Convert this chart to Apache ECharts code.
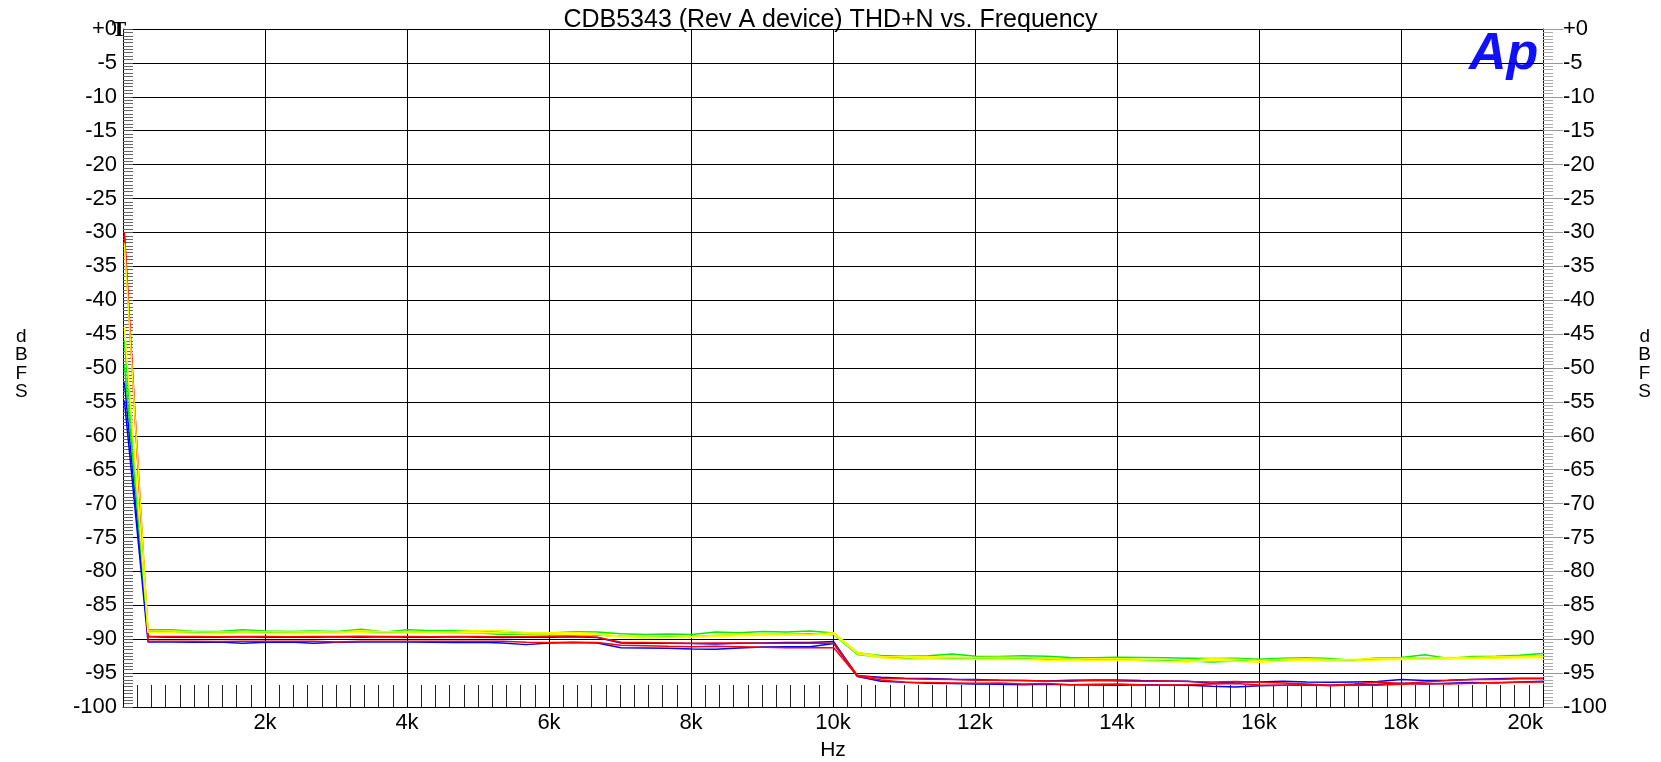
<!DOCTYPE html>
<html>
<head>
<meta charset="utf-8">
<script src="https://cdn.jsdelivr.net/npm/echarts@6/dist/echarts.min.js"></script>
<style>
html,body{margin:0;padding:0;background:#fff;}
#chart{width:1661px;height:762px;}
</style>
</head>
<body>
<div id="chart"></div>
<script>
// Frequencies (Hz) of the sweep points
const freqs = [20,353,686,1019,1352,1685,2018,2351,2684,3017,3350,3683,4016,4349,4682,5015,5348,5681,6014,6347,6680,7013,7346,7679,8012,8345,8678,9011,9344,9677,10010,10343,10676,11009,11342,11675,12008,12341,12674,13007,13340,13673,14006,14339,14672,15005,15338,15671,16004,16337,16670,17003,17336,17669,18002,18335,18668,19001,19334,19667,20000];

const greenA = [-45.9, -88.6,-88.6,-88.85,-88.85,-88.6,-88.8,-88.85,-88.8,-88.85,-88.55, -88.95,-88.6,-88.75,-88.7,-88.75, -89.0,-89.05,-89.1,-88.9,-88.95, -89.2,-89.3,-89.25,-89.3,-88.95, -89.05,-88.85,-88.95,-88.8,-89.1, -92.05,-92.4,-92.5,-92.45,-92.2, -92.5,-92.55,-92.45,-92.5,-92.7, -92.75,-92.65,-92.7,-92.75,-92.8, -92.85,-92.8,-92.95,-92.8,-92.75, -92.85,-93.15,-92.75,-92.7,-92.3, -92.85,-92.55,-92.5,-92.35,-92.1];
const greenB = [-49.6, -88.8,-88.9,-89.0,-89.05,-88.9,-89.0,-89.05,-89.1,-89.0,-88.95, -89.1,-88.95,-89.0,-89.05,-89.1, -89.3,-89.25,-89.3,-89.35,-89.4, -89.55,-89.7,-89.65,-89.6,-89.45, -89.35,-89.3,-89.25,-89.2,-89.35, -92.25,-92.65,-92.8,-92.85,-92.8, -92.75,-92.9,-92.85,-92.95,-92.9, -93.0,-92.95,-93.05,-93.15,-93.2, -93.35,-93.2,-93.1,-93.05,-93.1, -93.0,-93.05,-92.95,-92.9,-92.8, -92.85,-92.75,-92.7,-92.6,-92.5];
const yellowA = [-31.6, -88.75,-88.8,-88.9,-88.95,-88.85,-88.9,-88.95,-88.9,-88.95,-88.75, -88.9,-88.85,-88.9,-88.85,-88.7, -88.75,-89.0,-89.05,-89.0,-89.15, -89.55,-89.7,-89.7,-89.6,-89.45, -89.3,-89.3,-89.25,-89.3,-89.05, -91.9,-92.55,-92.6,-92.6,-92.65, -92.7,-92.65,-92.7,-92.8,-92.95, -92.9,-92.9,-92.95,-93.0,-93.1, -92.85,-92.95,-93.15,-92.95,-92.9, -93.0,-93.0,-92.8,-92.8,-92.75, -92.7,-92.7,-92.6,-92.55,-92.6];
const yellowB = [-43.9, -89.0,-89.05,-89.15,-89.2,-89.1,-89.15,-89.2,-89.15,-89.1,-89.0, -89.15,-89.1,-89.05,-89.1,-89.0, -89.1,-89.2,-89.25,-89.3,-89.3, -89.7,-89.85,-89.8,-89.75,-89.6, -89.5,-89.45,-89.4,-89.4,-89.25, -92.15,-92.75,-92.95,-92.9,-92.95, -93.0,-92.95,-93.0,-93.1,-93.2, -93.15,-93.1,-93.2,-93.3,-93.35, -93.15,-93.25,-93.4,-93.2,-93.15, -93.25,-93.2,-93.05,-93.0,-92.95, -92.9,-92.9,-92.8,-92.75,-92.75];
const redA = [-30.0, -89.55,-89.6,-89.6,-89.65,-89.6,-89.6,-89.65,-89.6,-89.6,-89.55, -89.6,-89.6,-89.65,-89.6,-89.6, -89.65,-89.6,-89.55,-89.5,-89.7, -90.45,-90.5,-90.55,-90.6,-90.55, -90.55,-90.6,-90.6,-90.6,-90.6, -95.3,-95.75,-95.85,-95.9,-95.95, -96.05,-96.05,-96.1,-96.15,-96.2, -96.1,-96.15,-96.2,-96.15,-96.25, -96.3,-96.25,-96.35,-96.45,-96.6, -96.8,-96.6,-96.3,-96.55,-96.3, -96.1,-95.95,-95.95,-95.85,-95.85];
const redB = [-30.5, -90.3,-90.3,-90.3,-90.35,-90.3,-90.3,-90.3,-90.3,-90.4,-90.3, -90.3,-90.3,-90.3,-90.3,-90.3, -90.3,-90.45,-90.5,-90.45,-90.5, -90.9,-90.95,-91.05,-91.1,-91.05, -91.1,-91.2,-91.25,-91.25,-91.25, -95.45,-96.0,-96.35,-96.4,-96.45, -96.5,-96.45,-96.6,-96.55,-96.7, -96.65,-96.6,-96.7,-96.75,-96.7, -96.6,-96.55,-96.75,-96.8,-96.7, -96.85,-96.75,-96.8,-96.65,-96.55, -96.6,-96.5,-96.4,-96.35,-96.3];
const blueA = [-52.1, -89.65,-89.7,-89.7,-89.7,-89.65,-89.7,-89.7,-89.7,-89.65,-89.7, -89.65,-89.7,-89.7,-89.65,-89.7, -89.75,-89.7,-89.7,-89.65,-89.75, -90.55,-90.6,-90.6,-90.65,-90.7, -90.6,-90.55,-90.5,-90.5,-90.35, -95.4,-95.6,-95.75,-95.8,-95.9, -95.95,-96.05,-96.1,-96.15,-96.05, -96.0,-96.0,-96.1,-96.15,-96.2, -96.5,-96.3,-96.3,-96.2,-96.3, -96.35,-96.3,-96.25,-95.95,-96.1, -96.05,-95.95,-95.85,-95.75,-95.75];
const blueB = [-54.8, -90.4,-90.4,-90.45,-90.4,-90.6,-90.45,-90.4,-90.6,-90.45,-90.4, -90.4,-90.4,-90.45,-90.5,-90.45, -90.55,-90.8,-90.55,-90.5,-90.55, -91.25,-91.3,-91.35,-91.45,-91.5, -91.3,-91.15,-91.1,-91.1,-90.65, -95.5,-96.2,-96.35,-96.5,-96.55, -96.6,-96.65,-96.7,-96.65,-96.7, -96.75,-96.8,-96.7,-96.75,-96.8, -96.95,-97.05,-96.85,-96.8,-96.75, -96.8,-96.7,-96.65,-96.5,-96.6, -96.5,-96.4,-96.45,-96.3,-96.2];

const titleText = 'CDB5343 (Rev A device) THD+N vs. Frequency';
const xName = 'Hz';
const yName = 'dBFS';

const FONT = "'Liberation Sans', Arial, sans-serif";
const chart = echarts.init(document.getElementById('chart'), null, {renderer: 'canvas'});

function mk(name, data, color) {
  return {
    name: name, type: 'line', symbol: 'none', animation: false,
    data: freqs.map((f, i) => [f, data[i]]),
    lineStyle: {color: color, width: 1.5}, itemStyle: {color: color}
  };
}

const yLabelFmt = v => v === 0 ? '+0' : String(v);

chart.setOption({
  animation: false,
  backgroundColor: '#fff',
  title: {
    text: titleText, left: 'center', top: 3,
    textStyle: {fontFamily: FONT, fontSize: 25, fontWeight: 'normal', color: '#000'}
  },
  grid: {left: 123, right: 118, top: 29, bottom: 55, containLabel: false, outerBoundsMode: 'none'},
  xAxis: {
    type: 'value', min: 0, max: 20000, interval: 2000,
    name: xName, nameLocation: 'middle', nameGap: 33,
    nameTextStyle: {fontFamily: FONT, fontSize: 21, color: '#000'},
    axisLine: {onZero: false, lineStyle: {color: '#000', width: 1}},
    axisTick: {show: true, inside: true, length: 22, lineStyle: {color: '#000'}},
    minorTick: {show: true, splitNumber: 10, length: 22, lineStyle: {color: '#222', width: 1}},
    axisLabel: {
      fontFamily: FONT, fontSize: 22, color: '#000', margin: 5,
      showMinLabel: false, showMaxLabel: true, alignMaxLabel: 'right',
      formatter: v => v === 0 ? '' : (v / 1000) + 'k'
    },
    splitLine: {show: true, lineStyle: {color: '#000', width: 1}}
  },
  yAxis: [{
    type: 'value', min: -100, max: 0, interval: 5, position: 'left',
    axisLine: {show: true, onZero: false, lineStyle: {color: '#000', width: 1}},
    axisTick: {show: true, inside: true, length: 10, lineStyle: {color: '#555'}},
    minorTick: {show: true, splitNumber: 10, length: 10, lineStyle: {color: '#666'}},
    axisLabel: {fontFamily: FONT, fontSize: 22, color: '#000', margin: 6, formatter: yLabelFmt},
    splitLine: {show: true, lineStyle: {color: '#000', width: 1}}
  }, {
    type: 'value', min: -100, max: 0, interval: 5, position: 'right',
    axisLine: {show: true, onZero: false, lineStyle: {color: '#000', width: 1}},
    axisTick: {show: true, inside: false, length: 20, lineStyle: {color: '#999'}},
    minorTick: {show: true, splitNumber: 10, length: 10, lineStyle: {color: '#aaa'}},
    axisLabel: {fontFamily: FONT, fontSize: 22, color: '#000', margin: 20, formatter: yLabelFmt},
    splitLine: {show: false}
  }],
  graphic: [
    {type: 'text', left: 15, top: 327, style: {text: yName.split('').join('\n'), font: "19px 'Liberation Sans', Arial", fill: '#000', textAlign: 'center', lineHeight: 18.5}},
    {type: 'text', right: 10, top: 327, style: {text: yName.split('').join('\n'), font: "19px 'Liberation Sans', Arial", fill: '#000', textAlign: 'center', lineHeight: 18.5}},
    {type: 'text', left: 1469, top: 29, style: {text: 'Ap', font: "italic bold 52px 'Liberation Sans', Arial", fill: '#1010ff'}},
    {type: 'text', left: 112, top: 22, style: {text: 'T', font: "bold 19px 'DejaVu Serif', serif", fill: '#000'}}
  ],
  series: [
    mk('blueB', blueB, '#0000ff'),
    mk('blueA', blueA, '#0000ff'),
    mk('redB', redB, '#ff0000'),
    mk('redA', redA, '#ff0000'),
    mk('greenB', greenB, '#00ee00'),
    mk('greenA', greenA, '#00ee00'),
    mk('yellowB', yellowB, '#ffff00'),
    mk('yellowA', yellowA, '#f5f500')
  ]
});
</script>
</body>
</html>
